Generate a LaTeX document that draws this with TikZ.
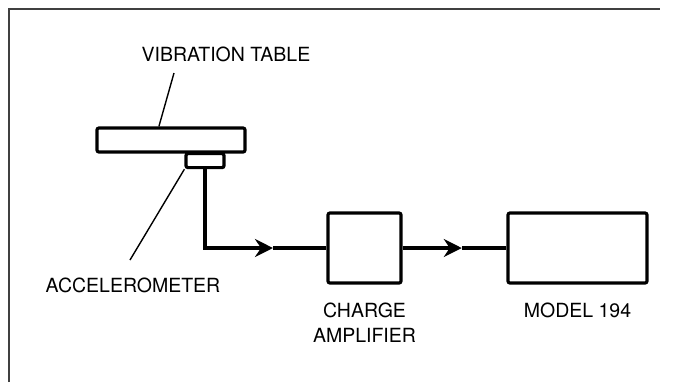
\documentclass[tikz,border=0pt]{standalone}
\usepackage{fontspec}
\setmainfont{TeX Gyre Heros}
\usetikzlibrary{positioning,calc,arrows.meta}

\begin{document}
\begin{tikzpicture}[
    x=0.5pt, y=-0.5pt,
    unit/.style={draw, line width=1.6pt, rounded corners=1pt, inner sep=0pt},
    caption/.style={font=\fontsize{9.75}{12.5}\selectfont, align=center, inner sep=0pt},
    wire/.style={line width=1.6pt},
    lead/.style={line width=0.7pt},
    flow/.style={wire, -{Stealth[length=9pt,width=9pt,inset=3pt]}}
]
\useasboundingbox (0,0) rectangle (674,382);

% Frame
\draw[line width=0.8pt, black!75] (9,382) -- (9,9) -- (660,9);

% Vibration table with accelerometer underneath
\node[unit, minimum width=74pt, minimum height=12pt] (table) at (171,140) {};
\node[unit, minimum width=19pt, minimum height=7pt, anchor=north] (accel) at (205,152) {};

% Signal chain
\node[unit, minimum width=36.5pt, minimum height=35pt] (amp) at (364.5,248) {};
\node[unit, minimum width=69.5pt, minimum height=35pt] (model) at (577.5,248) {};

% Labels
\node[caption] (tablelbl) at (226,54) {VIBRATION TABLE};
\node[caption] (accellbl) at (133,285) {ACCELEROMETER};
\node[caption, below=9pt of amp] (amplbl) {CHARGE\\AMPLIFIER};
\node[caption, below=9pt of model] (modellbl) {MODEL 194};

% Leaders
\coordinate (tablept) at (174,73);
\coordinate (accelpt) at (130,260);
\draw[lead] (tablept) -- ($(table.north west)!0.42!(table.north east)$);
\draw[lead] (accel.south west) -- (accelpt);

% Wires
\coordinate (bend) at (accel.south |- amp.west);
\draw[flow] (accel.south) -- (bend) -- ($(bend)!0.56!(amp.west)$);
\draw[wire] ($(bend)!0.56!(amp.west)$) -- (amp.west);
\draw[flow] (amp.east) -- ($(amp.east)!0.57!(model.west)$);
\draw[wire] ($(amp.east)!0.57!(model.west)$) -- (model.west);

\end{tikzpicture}
\end{document}
